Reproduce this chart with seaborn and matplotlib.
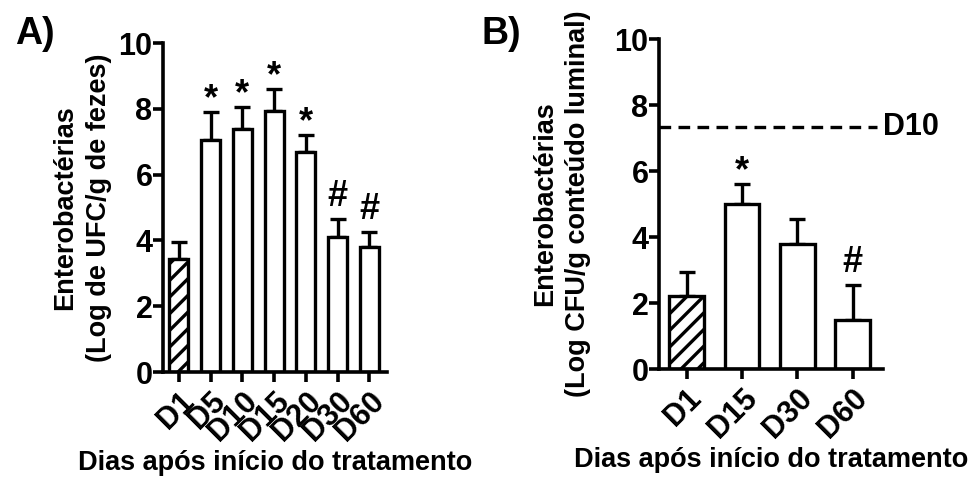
import numpy as np
import pandas as pd
import matplotlib
matplotlib.use("Agg")
import matplotlib.pyplot as plt
import seaborn as sns

# Panel A: faeces
days_a = ["D1", "D5", "D10", "D15", "D20", "D30", "D60"]
mean_a = [3.45, 7.05, 7.4, 7.95, 6.7, 4.1, 3.8]
upper_a = [3.95, 7.9, 8.05, 8.6, 7.2, 4.65, 4.25]
marks_a = ["", "*", "*", "*", "*", "#", "#"]

# Panel B: luminal content
days_b = ["D1", "D15", "D30", "D60"]
mean_b = [2.2, 5.0, 3.8, 1.5]
upper_b = [2.95, 5.6, 4.55, 2.55]
marks_b = ["", "*", "", "#"]
d10_level = 7.35

sns.set_style("ticks")
plt.rcParams["font.family"] = ["Liberation Sans", "DejaVu Sans"]
plt.rcParams["font.weight"] = "bold"
plt.rcParams["hatch.linewidth"] = 2.4
for key in ["text.color", "axes.labelcolor", "xtick.color", "ytick.color",
            "axes.edgecolor"]:
    plt.rcParams[key] = "black"

fig = plt.figure(figsize=(9.73, 4.83), dpi=100)
ax_a = fig.add_axes([0.1675, 0.2298, 0.2302, 0.681])
ax_b = fig.add_axes([0.6773, 0.236, 0.2302, 0.683])


def draw_panel(ax, days, mean, upper, marks, width, ylabel, pad):
    df = pd.DataFrame({"day": days, "mean": mean})
    sns.barplot(data=df, x="day", y="mean", ax=ax, color="white",
                edgecolor="black", linewidth=2.4, width=width,
                errorbar=None, zorder=2)
    ax.patches[0].set_hatch("//")
    err = np.array(upper) - np.array(mean)
    x = np.arange(len(days))
    ax.errorbar(x, mean, yerr=[np.zeros_like(err), err], fmt="none",
                ecolor="black", elinewidth=2.4, capsize=6, capthick=2.4,
                zorder=1)
    for xi, top, m in zip(x, upper, marks):
        if m:
            off = -0.15 if m == "*" else 0.15
            ax.text(xi, top + off, m, ha="center", va="bottom",
                    fontsize=26, fontweight="bold")
    ax.set_ylim(0, 10)
    ax.set_yticks([0, 2, 4, 6, 8, 10])
    ax.set_xlim(-0.5, len(days) - 0.45)
    sns.despine(ax=ax)
    for s in ["left", "bottom"]:
        ax.spines[s].set_linewidth(2.6)
    ax.tick_params(axis="both", width=2.6, length=7, labelsize=22)
    ax.tick_params(axis="y", pad=0.5)
    for lab in ax.get_yticklabels():
        lab.set_fontweight("bold")
    plt.setp(ax.get_xticklabels(), rotation=45, ha="right",
             rotation_mode="anchor", fontweight="bold")
    ax.set_ylabel(ylabel, fontsize=19.5, fontweight="bold", labelpad=pad,
                  linespacing=1.35)
    ax.set_xlabel("Dias após início do tratamento", fontsize=19.5,
                  fontweight="bold", va="center")
    ax.xaxis.set_label_coords(0.5, -0.277)


draw_panel(ax_a, days_a, mean_a, upper_a, marks_a, 0.6,
           "Enterobactérias\n(Log de UFC/g de fezes)", 5)
draw_panel(ax_b, days_b, mean_b, upper_b, marks_b, 0.63,
           "Enterobactérias\n(Log CFU/g conteúdo luminal)", 17)

ax_b.axhline(d10_level, xmin=0, xmax=0.975, color="black", linestyle="--",
             linewidth=2.4, dashes=(3.5, 2.2))
ax_b.text(1.0, d10_level, "D10", transform=ax_b.get_yaxis_transform(),
          ha="left", va="center", fontsize=22, fontweight="bold")

fig.text(0.015, 0.93, "A)", fontsize=27, fontweight="bold", va="center")
fig.text(0.495, 0.93, "B)", fontsize=27, fontweight="bold", va="center")

fig.savefig("out.png", dpi=100)
